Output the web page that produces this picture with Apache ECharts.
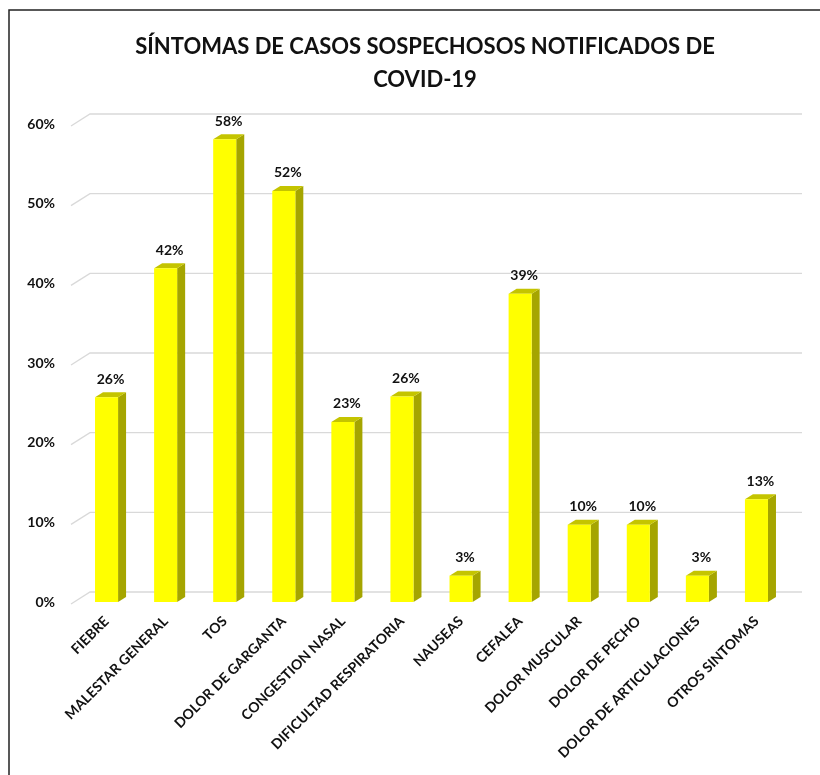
<!DOCTYPE html>
<html>
<head>
<meta charset="utf-8">
<script src="https://cdn.jsdelivr.net/npm/echarts@6/dist/echarts.min.js"></script>
<style>
html,body{margin:0;padding:0;background:#fff;}
#main{width:820px;height:775px;}
</style>
</head>
<body>
<div id="main"></div>
<script>
var categories = ['FIEBRE','MALESTAR GENERAL','TOS','DOLOR DE GARGANTA','CONGESTION NASAL','DIFICULTAD RESPIRATORIA','NAUSEAS','CEFALEA','DOLOR MUSCULAR','DOLOR DE PECHO','DOLOR DE ARTICULACIONES','OTROS SINTOMAS'];
var values = [0.257, 0.419, 0.581, 0.516, 0.226, 0.258, 0.033, 0.387, 0.097, 0.097, 0.033, 0.129];
var gridValues = [0, 0.1, 0.2, 0.3, 0.4, 0.5, 0.6];
var titleLines = ['SÍNTOMAS DE CASOS SOSPECHOSOS NOTIFICADOS DE', 'COVID-19'];

var FONT = 'Lato';
var chart = echarts.init(document.getElementById('main'), null, {renderer: 'canvas'});

function pct(v){ return Math.round(v * 100) + '%'; }

var option = {
  backgroundColor: '#ffffff',
  animation: false,
  title: {
    text: titleLines.join('\n'),
    left: 420,
    top: 25,
    textAlign: 'center',
    textStyle: {fontFamily: FONT, fontWeight: 'bold', fontSize: 22, color: '#111', lineHeight: 33}
  },
  graphic: [{
    type: 'rect',
    shape: {x: 9, y: 10, width: 830, height: 800},
    style: {fill: 'none', stroke: '#222', lineWidth: 1.5},
    silent: true
  }],
  grid: [
    {left: 77, right: 34, top: 124, bottom: 173},
    {left: 90, right: 18, top: 114, bottom: 183}
  ],
  xAxis: [
    {
      type: 'category', gridIndex: 0, data: categories,
      axisLine: {show: false}, axisTick: {show: false},
      axisLabel: {rotate: 45, margin: 17, interval: 0, fontFamily: FONT, fontWeight: 'bold', fontSize: 14, color: '#111'}
    },
    {type: 'value', gridIndex: 1, min: 0, max: 1, show: false}
  ],
  yAxis: [
    {
      type: 'value', gridIndex: 0, min: 0, max: 0.6, interval: 0.1,
      axisLine: {show: false}, axisTick: {show: false}, splitLine: {show: false},
      axisLabel: {margin: 22, padding: [7, 0, 0, 0], fontFamily: FONT, fontWeight: 'bold', fontSize: 14, color: '#111', formatter: function(v){ return pct(v); }}
    },
    {type: 'value', gridIndex: 1, min: 0, max: 0.6, interval: 0.1, show: false}
  ],
  series: [
    {
      type: 'custom', xAxisIndex: 1, yAxisIndex: 1, silent: true, z: 1,
      data: gridValues,
      renderItem: function(params, api){
        var v = api.value(0);
        var p0 = api.coord([0, v]);
        var p1 = api.coord([1, v]);
        return {
          type: 'polyline',
          shape: {points: [[p0[0] - 19, p0[1] + 12], p0, p1]},
          style: {stroke: '#d9d9d9', lineWidth: 1.3, fill: 'none'}
        };
      }
    },
    {
      type: 'custom', xAxisIndex: 0, yAxisIndex: 0, z: 2,
      data: values.map(function(v, i){ return [i, v]; }),
      encode: {x: 0, y: 1},
      renderItem: function(params, api){
        var i = api.value(0), v = api.value(1);
        var top = api.coord([i, v]);
        var bot = api.coord([i, 0]);
        var bw = api.size([1, 0])[0] * 0.39;
        var dx = 8, dy = 5;
        var xl = top[0] - bw / 2, xr = top[0] + bw / 2;
        var yt = top[1], yb = bot[1];
        return {
          type: 'group',
          children: [
            {type: 'polygon', shape: {points: [[xr, yt], [xr + dx, yt - dy], [xr + dx, yb - dy], [xr, yb]]}, style: {fill: '#a5a500'}},
            {type: 'polygon', shape: {points: [[xl, yt], [xl + dx, yt - dy], [xr + dx, yt - dy], [xr, yt]]}, style: {fill: '#c4c400'}},
            {type: 'rect', shape: {x: xl, y: yt, width: bw, height: yb - yt}, style: {fill: '#ffff00'}},
            {type: 'text', style: {text: pct(v), x: top[0] + dx / 2, y: yt - dy - 6, textAlign: 'center', textVerticalAlign: 'bottom', font: 'bold 14px ' + FONT, fill: '#111'}}
          ]
        };
      }
    }
  ]
};
chart.setOption(option);
</script>
</body>
</html>
